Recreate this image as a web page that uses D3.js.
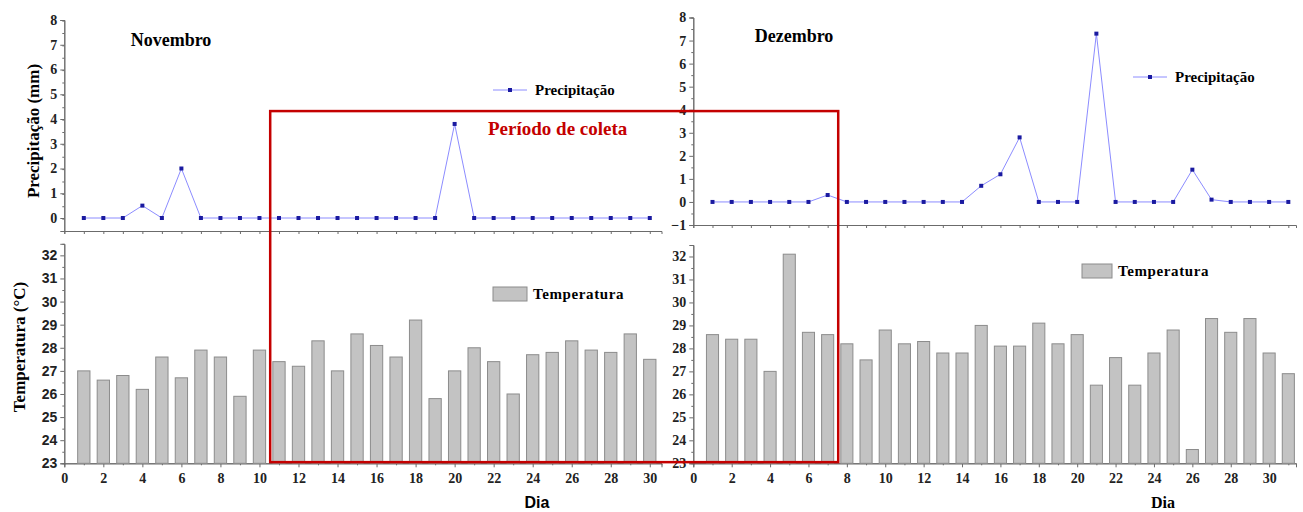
<!DOCTYPE html>
<html>
<head>
<meta charset="utf-8">
<script src="https://cdn.jsdelivr.net/npm/d3@7"></script>
<style>
body { margin: 0; background: #fff; }
svg { display: block; }
</style>
</head>
<body>
<svg width="1303" height="512"></svg>
<script>
// dias do mes
var diasNov = d3.range(1, 31)
var diasDez = d3.range(1, 32)

// precipitacao (mm)
var precNov = [0, 0, 0, 0.5, 0, 2, 0, 0, 0, 0, 0, 0, 0, 0, 0, 0, 0, 0, 0, 3.8, 0, 0, 0, 0, 0, 0, 0, 0, 0, 0]
var precDez = [0, 0, 0, 0, 0, 0, 0.3, 0, 0, 0, 0, 0, 0, 0, 0.7, 1.2, 2.8, 0, 0, 0, 7.3, 0, 0, 0, 0, 1.4, 0.1, 0, 0, 0, 0]

// temperatura (C)
var tempNov = [27.0, 26.6, 26.8, 26.2, 27.6, 26.7, 27.9, 27.6, 25.9, 27.9, 27.4, 27.2, 28.3, 27.0, 28.6,
  28.1, 27.6, 29.2, 25.8, 27.0, 28.0, 27.4, 26.0, 27.7, 27.8, 28.3, 27.9, 27.8, 28.6, 27.5]
var tempDez = [28.6, 28.4, 28.4, 27.0, 32.1, 28.7, 28.6, 28.2, 27.5, 28.8, 28.2, 28.3, 27.8, 27.8, 29.0, 28.1,
  28.1, 29.1, 28.2, 28.6, 26.4, 27.6, 26.4, 27.8, 28.8, 23.6, 29.3, 28.7, 29.3, 27.8, 26.9]

// ticks
var xTicks = d3.range(0, 31, 2)
var precTicksNov = d3.range(0, 9)
var precTicksDez = d3.range(-1, 9)
var tempTicks = d3.range(23, 33)

var serif = '"Liberation Serif", "DejaVu Serif", serif'
var sans = '"Liberation Sans", Arial, sans-serif'
var axisCol = '#6b6b6b'

var svg = d3.select('svg')

var drawPanel = function(p) {
  var g = svg.append('g')

  // precip axes
  var yAx = g.append('g').attr('transform', 'translate(' + p.x.range()[0] + ',0)')
    .attr('font-family', serif).attr('font-weight', 'bold')
    .call(d3.axisLeft(p.yP).tickValues(p.precTicks).tickSize(4).tickFormat(d3.format('d')))
  yAx.selectAll('text').style('font-family', serif).style('font-weight', 'bold').style('font-size', '14px').attr('fill', '#222')
  g.append('g').attr('transform', 'translate(' + p.x.range()[0] + ',0)')
    .call(d3.axisLeft(p.yP).tickValues(d3.range(p.yP.domain()[0], 8.01, 0.5).filter(function(v){ return v % 1 != 0 })).tickSize(2).tickFormat(''))
  g.append('g').attr('transform', 'translate(0,' + p.yP.range()[0] + ')')
    .call(d3.axisBottom(p.x).tickValues(d3.range(0, p.maxDay + 1)).tickSize(3).tickFormat(''))

  // temp axes
  var yT = g.append('g').attr('transform', 'translate(' + p.x.range()[0] + ',0)')
    .call(d3.axisLeft(p.yT).tickValues(tempTicks).tickSize(4))
  yT.selectAll('text').style('font-family', p.tempFont).style('font-weight', 'bold').style('font-size', '14px').attr('fill', '#222')
  g.append('g').attr('transform', 'translate(' + p.x.range()[0] + ',0)')
    .call(d3.axisLeft(p.yT).tickValues(d3.range(23.5, 32.5, 1)).tickSize(2).tickFormat(''))
  var xB = g.append('g').attr('transform', 'translate(0,' + p.yT.range()[0] + ')')
    .call(d3.axisBottom(p.x).tickValues(xTicks).tickSize(4))
  xB.selectAll('text').style('font-family', serif).style('font-weight', 'bold').style('font-size', '14px').attr('fill', '#222').attr('dy', '0.9em')
  g.append('g').attr('transform', 'translate(0,' + p.yT.range()[0] + ')')
    .call(d3.axisBottom(p.x).tickValues(d3.range(1, p.maxDay + 1, 2)).tickSize(2).tickFormat(''))

  g.selectAll('.domain').attr('stroke', axisCol)
  g.selectAll('.tick line').attr('stroke', axisCol)

  // barras
  var bw = (p.x(1) - p.x(0)) * 0.63
  g.append('g').selectAll('rect')
    .data(p.temp)
    .enter()
    .append('rect')
    .attr('x', function(d, i){ return p.x(p.dias[i]) - bw / 2 })
    .attr('y', function(d){ return p.yT(d) })
    .attr('width', bw)
    .attr('height', function(d){ return p.yT(23) - p.yT(d) })
    .attr('fill', '#c3c3c3')
    .attr('stroke', '#8c8c8c')
    .attr('stroke-width', 1)

  // linha
  var line = d3.line()
    .x(function(d, i){ return p.x(p.dias[i]) })
    .y(function(d){ return p.yP(d) })
  g.append('path').datum(p.prec)
    .attr('d', line)
    .attr('fill', 'none')
    .attr('stroke', '#8c8cff')
    .attr('stroke-width', 1)
  g.append('g').selectAll('rect')
    .data(p.prec)
    .enter()
    .append('rect')
    .attr('x', function(d, i){ return p.x(p.dias[i]) - 2 })
    .attr('y', function(d){ return p.yP(d) - 2 })
    .attr('width', 4)
    .attr('height', 4)
    .attr('fill', '#1a1aa0')

  // titulo
  g.append('text').text(p.title)
    .attr('x', p.titlePos[0]).attr('y', p.titlePos[1])
    .attr('text-anchor', 'middle')
    .style('font-family', serif).style('font-weight', 'bold').style('font-size', '18px')

  // legenda precip
  var lp = p.legP
  g.append('line').attr('x1', lp[0]).attr('x2', lp[0] + 34).attr('y1', lp[1]).attr('y2', lp[1])
    .attr('stroke', '#8c8cff')
  g.append('rect').attr('x', lp[0] + 15).attr('y', lp[1] - 2).attr('width', 4).attr('height', 4).attr('fill', '#1a1aa0')
  g.append('text').text('Precipitação')
    .attr('x', lp[0] + 42).attr('y', lp[1] + 5)
    .style('font-family', serif).style('font-weight', 'bold').style('font-size', '15px')

  // legenda temp
  var lt = p.legT
  g.append('rect').attr('x', lt[0]).attr('y', lt[1] - 7).attr('width', lt[2]).attr('height', 14)
    .attr('fill', '#c3c3c3').attr('stroke', '#8c8c8c')
  g.append('text').text('Temperatura')
    .attr('x', lt[0] + lt[2] + 6).attr('y', lt[1] + 5)
    .style('font-family', serif).style('font-weight', 'bold').style('font-size', '15px')
    .style('letter-spacing', '0.6px')

  // Dia
  g.append('text').text('Dia')
    .attr('x', p.diaPos[0]).attr('y', p.diaPos[1])
    .attr('text-anchor', 'middle')
    .style('font-family', p.diaFont).style('font-weight', 'bold').style('font-size', '16px')
}

var xNov = d3.scaleLinear().domain([0, 30.6]).range([64.3, 661.5])
var xDez = d3.scaleLinear().domain([0, 31.4]).range([693.3, 1296])
var yPNov = d3.scaleLinear().domain([-0.525, 8]).range([231, 20])
var yPDez = d3.scaleLinear().domain([-1, 8]).range([225, 17.5])
var yTNov = d3.scaleLinear().domain([23, 32.5]).range([463.3, 243.8])
var yTDez = d3.scaleLinear().domain([23, 32.5]).range([463.3, 245])

drawPanel({x: xNov, yP: yPNov, yT: yTNov, dias: diasNov, prec: precNov, temp: tempNov, maxDay: 30,
  precTicks: precTicksNov, tempFont: sans, title: 'Novembro', titlePos: [171, 46],
  legP: [493, 90], legT: [493, 294, 34], diaPos: [537, 508], diaFont: sans})
drawPanel({x: xDez, yP: yPDez, yT: yTDez, dias: diasDez, prec: precDez, temp: tempDez, maxDay: 31,
  precTicks: precTicksDez, tempFont: serif, title: 'Dezembro', titlePos: [794, 42],
  legP: [1133, 77], legT: [1082, 271, 30], diaPos: [1163, 508], diaFont: serif})

// y labels
svg.append('text').text('Precipitação (mm)')
  .attr('transform', 'translate(39,131) rotate(-90)')
  .attr('text-anchor', 'middle')
  .style('font-family', serif).style('font-weight', 'bold').style('font-size', '17px')
svg.append('text').text('Temperatura (°C)')
  .attr('transform', 'translate(25,347) rotate(-90)')
  .attr('text-anchor', 'middle')
  .style('font-family', serif).style('font-weight', 'bold').style('font-size', '17px')

// periodo de coleta
var rx0 = xNov(10.55), rx1 = xDez(7.55)
var ry0 = yPNov(4.32), ry1 = yTNov(23.05)
svg.append('rect')
  .attr('x', rx0).attr('y', ry0).attr('width', rx1 - rx0).attr('height', ry1 - ry0)
  .attr('fill', 'none').attr('stroke', '#c40000').attr('stroke-width', 2.5)
svg.append('text').text('Período de coleta')
  .attr('x', 488).attr('y', 135)
  .attr('fill', '#c40000')
  .style('font-family', serif).style('font-weight', 'bold').style('font-size', '19px')
</script>
</body>
</html>
